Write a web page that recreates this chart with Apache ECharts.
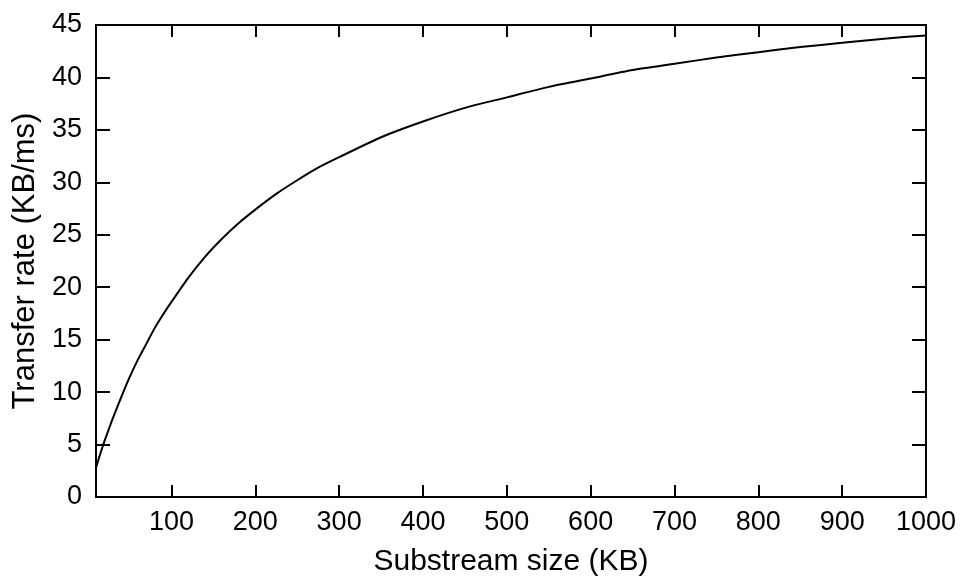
<!DOCTYPE html>
<html>
<head>
<meta charset="utf-8">
<script src="https://cdn.jsdelivr.net/npm/echarts@6/dist/echarts.min.js"></script>
<style>
html,body{margin:0;padding:0;background:#fff;}
#chart{width:965px;height:588px;}
</style>
</head>
<body>
<div id="chart"></div>
<script>
// Substream size (KB)
const sizes = [10, 15, 20, 25, 30, 40, 50, 60, 70, 80, 90, 100, 120, 140, 160, 180, 200, 225, 250, 275, 300, 350, 400, 450, 500, 550, 600, 650, 700, 750, 800, 850, 900, 950, 1000];
// Transfer rate (KB/ms)
const rates = [2.8, 4.1, 5.3, 6.4, 7.5, 9.5, 11.4, 13.1, 14.6, 16.1, 17.4, 18.6, 20.9, 22.9, 24.6, 26.1, 27.4, 28.9, 30.2, 31.4, 32.4, 34.3, 35.8, 37.1, 38.1, 39.1, 39.9, 40.7, 41.3, 41.9, 42.4, 42.9, 43.3, 43.7, 44.0];
const xTicks = [100, 200, 300, 400, 500, 600, 700, 800, 900, 1000];
const yTicks = [0, 5, 10, 15, 20, 25, 30, 35, 40, 45];

const FONT = '"Liberation Sans", Arial, sans-serif';
const chart = echarts.init(document.getElementById('chart'), null, {renderer: 'canvas'});
const lineStyle = {color: '#000', width: 2};
const tickStyle = {color: '#000', width: 2};
chart.setOption({
  animation: false,
  backgroundColor: '#fff',
  grid: {left: 96, right: 39, top: 25, bottom: 91, containLabel: false},
  xAxis: [{
    type: 'value', min: 10, max: 1000, position: 'bottom',
    axisLine: {show: true, onZero: false, lineStyle},
    axisTick: {show: true, inside: true, length: 12, lineStyle: tickStyle, customValues: xTicks},
    axisLabel: {color: '#000', fontFamily: FONT, fontSize: 27, margin: 12, customValues: xTicks, formatter: v => String(v)},
    splitLine: {show: false},
    name: 'Substream size (KB)', nameLocation: 'middle', nameGap: 50,
    nameTextStyle: {color: '#000', fontFamily: FONT, fontSize: 30}
  }, {
    type: 'value', min: 10, max: 1000, position: 'top',
    axisLine: {show: true, onZero: false, lineStyle},
    axisTick: {show: true, inside: true, length: 12, lineStyle: tickStyle, customValues: xTicks},
    axisLabel: {show: false},
    splitLine: {show: false}
  }],
  yAxis: [{
    type: 'value', min: 0, max: 45, position: 'left',
    axisLine: {show: true, onZero: false, lineStyle},
    axisTick: {show: true, inside: true, length: 14, lineStyle: tickStyle, customValues: yTicks},
    axisLabel: {color: '#000', fontFamily: FONT, fontSize: 27, margin: 14, customValues: yTicks},
    splitLine: {show: false},
    name: 'Transfer rate (KB/ms)', nameLocation: 'middle', nameGap: 52, nameRotate: 90,
    nameTextStyle: {color: '#000', fontFamily: FONT, fontSize: 31}
  }, {
    type: 'value', min: 0, max: 45, position: 'right',
    axisLine: {show: true, onZero: false, lineStyle},
    axisTick: {show: true, inside: true, length: 14, lineStyle: tickStyle, customValues: yTicks},
    axisLabel: {show: false},
    splitLine: {show: false}
  }],
  series: [{
    type: 'line',
    data: sizes.map((s, i) => [s, rates[i]]),
    smooth: 0.2,
    showSymbol: false,
    lineStyle: {color: '#000', width: 2},
    xAxisIndex: 0, yAxisIndex: 0
  }]
});
</script>
</body>
</html>
